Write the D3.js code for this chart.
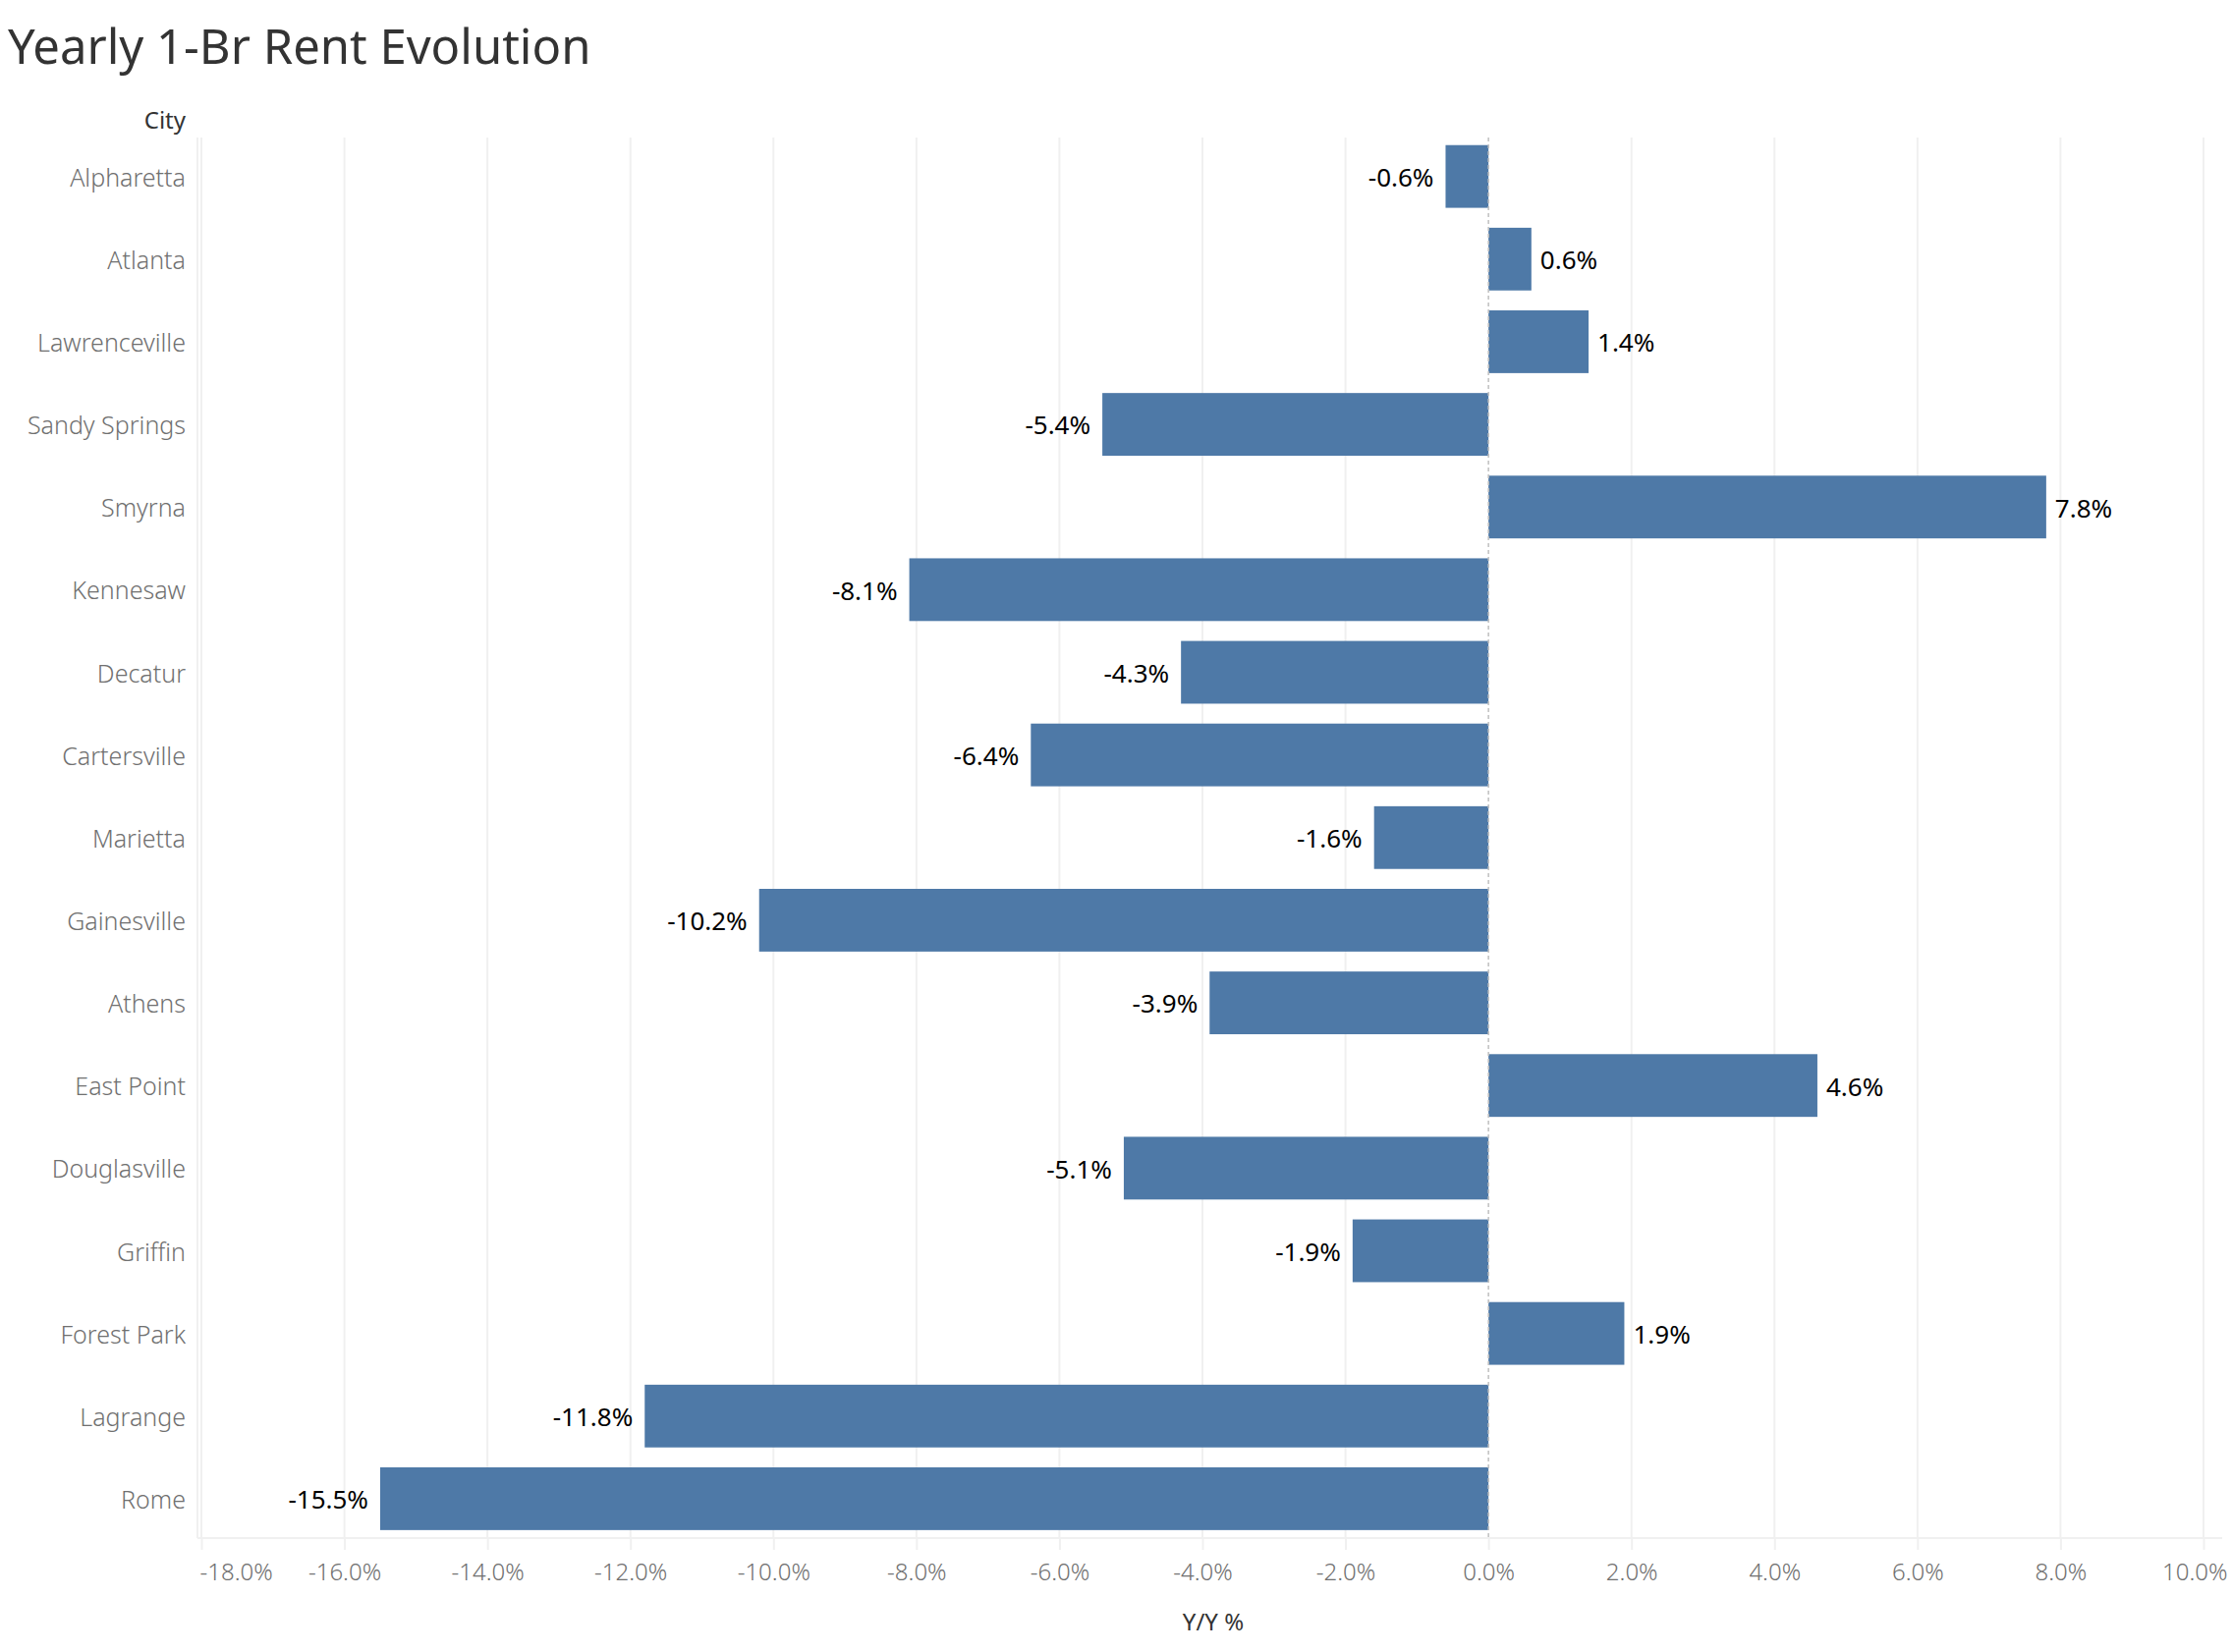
<!DOCTYPE html>
<html>
<head>
<meta charset="utf-8">
<script src="https://cdn.jsdelivr.net/npm/d3@7"></script>
<style>
  html, body { margin: 0; padding: 0; background: #fff; }
  svg { display: block; }
</style>
</head>
<body>
<svg id="chart" width="2272" height="1682"></svg>
<script>
const cities = ["Alpharetta","Atlanta","Lawrenceville","Sandy Springs","Smyrna","Kennesaw","Decatur","Cartersville","Marietta","Gainesville","Athens","East Point","Douglasville","Griffin","Forest Park","Lagrange","Rome"];
const yoyValues = [-0.6, 0.6, 1.4, -5.4, 7.8, -8.1, -4.3, -6.4, -1.6, -10.2, -3.9, 4.6, -5.1, -1.9, 1.9, -11.8, -15.5];
const xTicks = [-18, -16, -14, -12, -10, -8, -6, -4, -2, 0, 2, 4, 6, 8, 10];

const data = cities.map((c, i) => ({ city: c, value: yoyValues[i] }));
const pct = v => d3.format(".1f")(v).replace("\u2212", "-") + "%";

const svg = d3.select("#chart");
const FONT = "'Noto Sans', 'Open Sans', sans-serif";

const plotLeft = 201, plotRight = 2262, plotTop = 140, plotBottom = 1566;

const x = d3.scaleLinear().domain([-18, 10]).range([205, 2243]);
const y = d3.scaleBand().domain(cities).range([137.6, 1568]).paddingInner(0.241).paddingOuter(0.1205);

// Title
svg.append("text").attr("x", 8).attr("y", 65)
  .attr("font-family", FONT).attr("font-size", 49).attr("fill", "#333")
  .text("Yearly 1-Br Rent Evolution");

// City header
svg.append("text").attr("x", 189).attr("y", 131)
  .attr("text-anchor", "end").attr("font-family", FONT).attr("font-size", 24)
  .attr("font-weight", 400).attr("fill", "#333").text("City");

// Grid lines
const grid = svg.append("g");
grid.selectAll("line.grid").data(xTicks.filter(t => t !== 0)).join("line")
  .attr("class", "grid")
  .attr("x1", d => x(d)).attr("x2", d => x(d))
  .attr("y1", plotTop).attr("y2", plotBottom)
  .attr("stroke", "#f0f0f0").attr("stroke-width", 2);

// plot left border
svg.append("line").attr("x1", plotLeft).attr("x2", plotLeft).attr("y1", plotTop).attr("y2", plotBottom)
  .attr("stroke", "#f0f0f0").attr("stroke-width", 2);

// Bars
svg.append("g").selectAll("rect").data(data).join("rect")
  .attr("x", d => x(Math.min(0, d.value)))
  .attr("width", d => Math.abs(x(d.value) - x(0)))
  .attr("y", d => y(d.city))
  .attr("height", y.bandwidth())
  .attr("fill", "#4e79a7");

// Zero line
svg.append("line").attr("x1", x(0)).attr("x2", x(0)).attr("y1", plotTop).attr("y2", plotBottom)
  .attr("stroke", "#c0c0c0").attr("stroke-width", 1.5).attr("stroke-dasharray", "4,3");

// Bar labels
svg.append("g").selectAll("text").data(data).join("text")
  .attr("x", d => d.value < 0 ? x(d.value) - 12 : x(d.value) + 9)
  .attr("y", d => y(d.city) + y.bandwidth() / 2 + 1)
  .attr("dy", "0.36em")
  .attr("text-anchor", d => d.value < 0 ? "end" : "start")
  .attr("font-family", FONT).attr("font-size", 26).attr("fill", "#000")
  .text(d => pct(d.value));

// Y axis labels (cities)
const yAxis = d3.axisLeft(y).tickSize(0).tickPadding(0);
const yg = svg.append("g").attr("transform", `translate(189,2)`).call(yAxis);
yg.select(".domain").remove();
yg.selectAll("text").attr("font-family", FONT).attr("font-size", 25).attr("fill", "#707070")
  .attr("font-weight", 300);

// X axis
const xAxis = d3.axisBottom(x).tickValues(xTicks).tickSize(12).tickPadding(14)
  .tickFormat(pct);
const xg = svg.append("g").attr("transform", `translate(0,${plotBottom})`).call(xAxis);
xg.select(".domain").remove();
xg.selectAll(".tick line").attr("stroke", "#f0f0f0").attr("stroke-width", 2);
xg.selectAll(".tick text").attr("font-family", FONT).attr("font-size", 24).attr("fill", "#707070")
  .attr("font-weight", 300);
// clamp end labels inside
xg.selectAll(".tick text").filter(d => d === xTicks[0]).attr("text-anchor", "start").attr("x", -2);
xg.selectAll(".tick text").filter(d => d === xTicks[xTicks.length - 1]).attr("text-anchor", "end").attr("x", plotRight - x(10) + 5);

// axis line
svg.append("line").attr("x1", plotLeft).attr("x2", plotRight).attr("y1", plotBottom).attr("y2", plotBottom)
  .attr("stroke", "#f0f0f0").attr("stroke-width", 2);

// axis title
svg.append("text").attr("x", 1235).attr("y", 1660).attr("text-anchor", "middle")
  .attr("font-family", FONT).attr("font-size", 24).attr("fill", "#333").text("Y/Y %");
</script>
</body>
</html>
